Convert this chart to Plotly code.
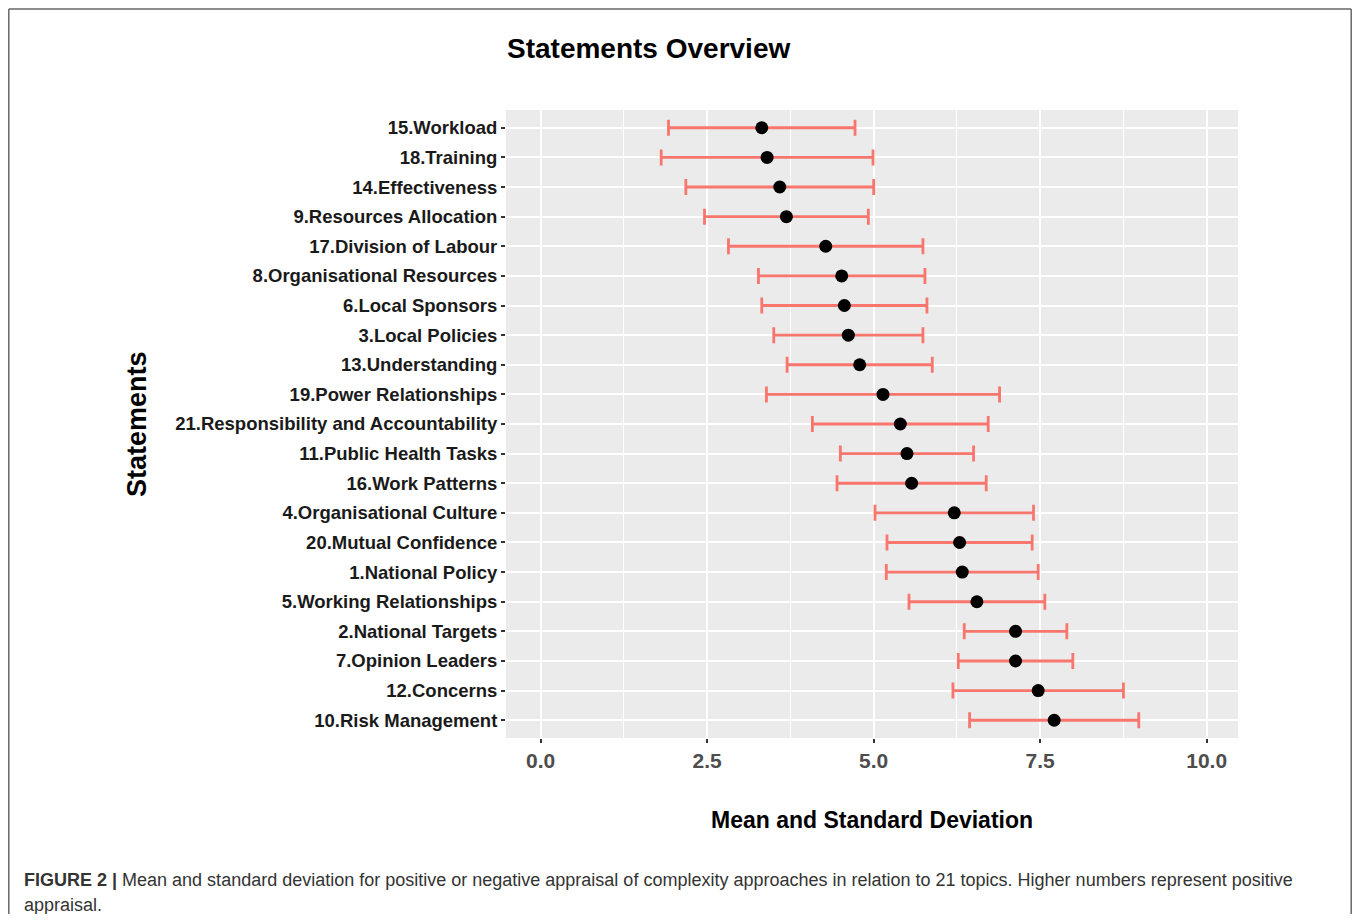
import plotly.graph_objects as go

# ---- data (top to bottom as shown) ----
statements = [
    "15.Workload", "18.Training", "14.Effectiveness", "9.Resources Allocation",
    "17.Division of Labour", "8.Organisational Resources", "6.Local Sponsors",
    "3.Local Policies", "13.Understanding", "19.Power Relationships",
    "21.Responsibility and Accountability", "11.Public Health Tasks",
    "16.Work Patterns", "4.Organisational Culture", "20.Mutual Confidence",
    "1.National Policy", "5.Working Relationships", "2.National Targets",
    "7.Opinion Leaders", "12.Concerns", "10.Risk Management",
]
means = [3.32, 3.40, 3.59, 3.69, 4.28, 4.52, 4.56, 4.62, 4.79, 5.14,
         5.40, 5.50, 5.57, 6.21, 6.29, 6.33, 6.55, 7.13, 7.13, 7.47, 7.71]
sds = [1.40, 1.59, 1.41, 1.23, 1.46, 1.25, 1.24, 1.12, 1.09, 1.75,
       1.32, 1.00, 1.12, 1.19, 1.09, 1.14, 1.02, 0.77, 0.86, 1.28, 1.27]
x_ticks = [0, 2.5, 5, 7.5, 10]

SANS = "Liberation Sans, Arial, Helvetica, sans-serif"

# page has an 8px body margin; target pixel coords are shifted by OFF
OFF = 8
W, H = 1360 - 2 * OFF, 922 - 2 * OFF
PL, PR, PT, PB = 506 - OFF, 1238 - OFF, 110 - OFF, 738 - OFF
pw, ph = PR - PL, PB - PT

def px(xp):
    return (xp - OFF - PL) / pw

def py(yp):
    return (PB - (yp - OFF)) / ph

fig = go.Figure()
fig.add_trace(go.Scatter(
    x=means, y=statements, mode="markers",
    marker=dict(color="black", size=13),
    error_x=dict(type="data", array=sds, symmetric=True,
                 color="#F8766D", thickness=2.8, width=8),
    showlegend=False, hoverinfo="x+y",
))

border = dict(color="#666666", width=1.5)

fig.update_layout(
    width=W, height=H,
    margin=dict(l=PL, r=W - PR, t=PT, b=H - PB, autoexpand=False),
    paper_bgcolor="white", plot_bgcolor="#EBEBEB",
    xaxis=dict(
        range=[-0.52, 10.47], tickvals=x_ticks, tickformat=".1f",
        showgrid=True, gridcolor="white", gridwidth=2,
        minor=dict(dtick=1.25, tick0=0, showgrid=True, gridcolor="white", gridwidth=1),
        zeroline=False, showline=False,
        ticks="outside", ticklen=4, tickwidth=1.5, tickcolor="#333333",
        tickfont=dict(family=SANS, size=21, color="#4D4D4D", weight="bold"),
    ),
    yaxis=dict(
        type="category", categoryorder="array", categoryarray=statements,
        range=[20.6, -0.6],
        showgrid=True, gridcolor="white", gridwidth=2,
        zeroline=False, showline=False,
        ticks="outside", ticklen=4, tickwidth=1.5, tickcolor="#333333",
        tickfont=dict(family=SANS, size=18.5, color="#1A1A1A", weight="bold"),
    ),
    annotations=[
        dict(text="<b>Statements Overview</b>", xref="paper", yref="paper",
             x=px(505), y=py(49), xanchor="left", yanchor="middle", showarrow=False,
             font=dict(family=SANS, size=28, color="black")),
        dict(text="<b>Mean and Standard Deviation</b>", xref="paper", yref="paper",
             x=0.5, y=py(820), xanchor="center", yanchor="middle", showarrow=False,
             font=dict(family=SANS, size=23, color="black")),
        dict(text="<b>Statements</b>", xref="paper", yref="paper",
             x=px(137), y=0.5, xanchor="center", yanchor="middle", showarrow=False,
             textangle=-90, font=dict(family=SANS, size=27, color="black")),
        dict(text="<b>FIGURE 2 |</b> Mean and standard deviation for positive or negative appraisal of complexity approaches in relation to 21 topics. Higher numbers represent positive",
             xref="paper", yref="paper", x=px(22), y=py(880), xanchor="left", yanchor="middle",
             showarrow=False, font=dict(family=SANS, size=18, color="#333333")),
        dict(text="appraisal.", xref="paper", yref="paper", x=px(22), y=py(905),
             xanchor="left", yanchor="middle", showarrow=False,
             font=dict(family=SANS, size=18, color="#333333")),
    ],
    shapes=[
        dict(type="line", xref="paper", yref="paper",
             x0=px(8.8), x1=px(8.8), y0=py(9), y1=py(930), line=border),
        dict(type="line", xref="paper", yref="paper",
             x0=px(1351.2), x1=px(1351.2), y0=py(9), y1=py(930), line=border),
        dict(type="line", xref="paper", yref="paper",
             x0=px(8.8), x1=px(1351.2), y0=py(9), y1=py(9), line=border),
    ],
)

fig.write_html("out.html")
